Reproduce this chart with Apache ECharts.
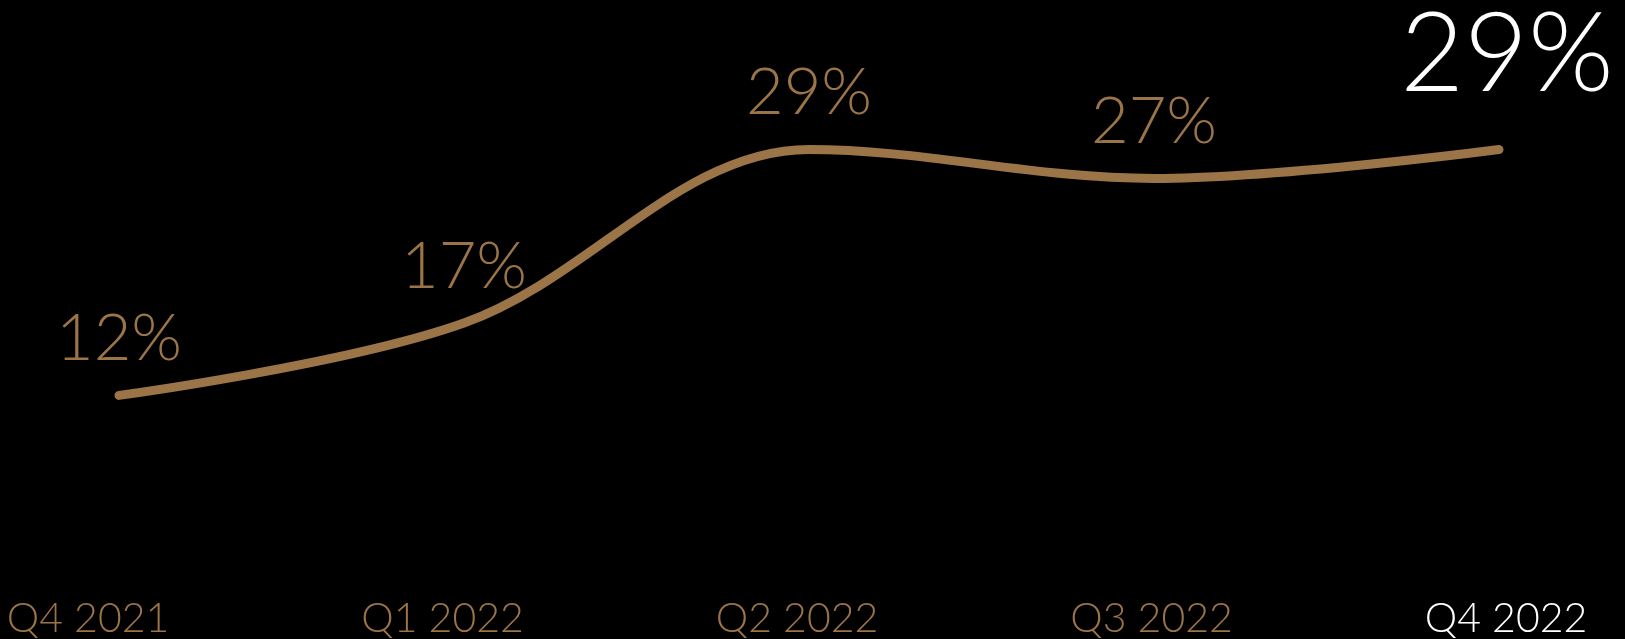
<!DOCTYPE html>
<html><head><meta charset="utf-8">
<script src="https://cdn.jsdelivr.net/npm/echarts@6/dist/echarts.min.js"></script>
<style>html,body{margin:0;padding:0;background:#000;}#c{width:1625px;height:639px;}</style>
</head><body><div id="c"></div>
<script>
var categories = ['Q4 2021', 'Q1 2022', 'Q2 2022', 'Q3 2022', 'Q4 2022'];
var values = [12, 17, 29, 27, 29];
var gold = '#9b7447';
var fontFam = 'Lato, "Open Sans", sans-serif';

var chart = echarts.init(document.getElementById('c'));
var seriesData = values.map(function (v, i) {
  var last = i === values.length - 1;
  return {
    value: v,
    label: last ? { color: '#ffffff', fontSize: 110, distance: 38, offset: [8, 0] } : {}
  };
});
chart.setOption({
  backgroundColor: '#000',
  animation: false,
  grid: [
    { left: 119, right: 126, top: 135, bottom: 70 },
    { left: 88, right: 119, top: 135, bottom: 70 }
  ],
  xAxis: [
    { gridIndex: 0, type: 'category', data: categories, boundaryGap: false,
      axisLine: { show: false }, axisTick: { show: false }, axisLabel: { show: false }, splitLine: { show: false } },
    { gridIndex: 1, type: 'category', data: categories, boundaryGap: false,
      axisLine: { show: false }, axisTick: { show: false }, splitLine: { show: false },
      axisLabel: { show: true, margin: 34, fontFamily: fontFam, fontWeight: 300, fontSize: 41,
        color: function (v, i) { return i === categories.length - 1 ? '#ffffff' : gold; } } }
  ],
  yAxis: [
    { gridIndex: 0, type: 'value', min: 0, max: 30, show: false, splitLine: { show: false } },
    { gridIndex: 1, type: 'value', min: 0, max: 30, show: false, splitLine: { show: false } }
  ],
  series: [{
    type: 'line',
    xAxisIndex: 0, yAxisIndex: 0,
    data: seriesData,
    smooth: 0.35,
    showSymbol: true,
    symbol: 'circle',
    symbolSize: 1,
    itemStyle: { color: 'rgba(0,0,0,0)' },
    lineStyle: { color: gold, width: 9, cap: 'round' },
    label: {
      show: true, position: 'top', distance: 23,
      fontFamily: fontFam, fontWeight: 300, fontSize: 65, color: gold,
      formatter: function (p) { return p.value + '%'; }
    }
  }]
});
</script></body></html>
